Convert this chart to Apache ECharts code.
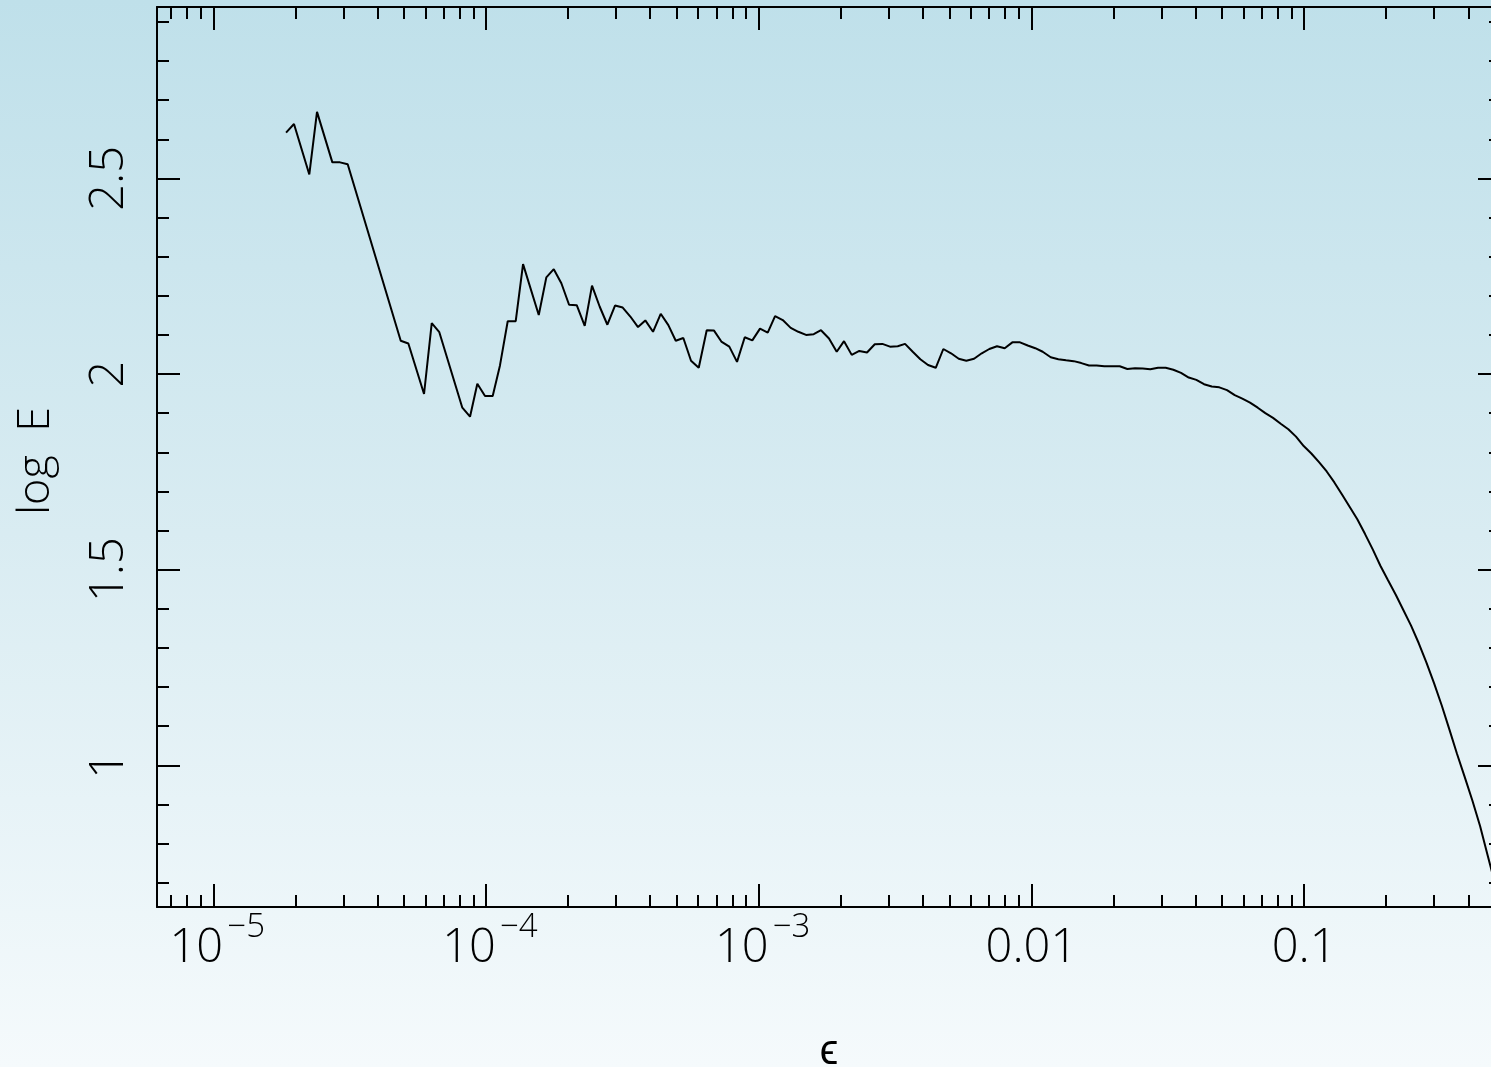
<!DOCTYPE html>
<html><head><meta charset="utf-8">
<script src="https://cdn.jsdelivr.net/npm/echarts@6/dist/echarts.min.js"></script>
<style>html,body{margin:0;padding:0;width:1491px;height:1067px;overflow:hidden}#c{width:1491px;height:1067px}</style>
</head><body><div id="c"></div>
<script>
// epsilon values (x) and log E values (y)
const eps = [1.848e-5,1.976e-5,2.249e-5,2.400e-5,2.732e-5,2.915e-5,3.110e-5,4.866e-5,5.190e-5,5.925e-5,
6.323e-5,6.741e-5,8.186e-5,8.736e-5,9.292e-5,9.915e-5,1.058e-4,1.125e-4,1.201e-4,1.285e-4,
1.367e-4,1.561e-4,1.664e-4,1.772e-4,1.889e-4,2.016e-4,2.151e-4,2.301e-4,2.447e-4,2.612e-4,
2.786e-4,2.972e-4,3.171e-4,3.382e-4,3.609e-4,3.838e-4,4.096e-4,4.371e-4,4.662e-4,4.963e-4,
5.291e-4,5.646e-4,6.026e-4,6.446e-4,6.856e-4,7.293e-4,7.801e-4,8.326e-4,8.887e-4,9.474e-4,
1.011e-3,1.079e-3,1.148e-3,1.225e-3,1.310e-3,1.397e-3,1.491e-3,1.591e-3,1.692e-3,1.810e-3,
1.932e-3,2.055e-3,2.193e-3,2.338e-3,2.495e-3,2.664e-3,2.840e-3,3.030e-3,3.234e-3,3.440e-3,
3.671e-3,3.914e-3,4.177e-3,4.458e-3,4.753e-3,5.072e-3,5.413e-3,5.771e-3,6.161e-3,6.574e-3,
7.008e-3,7.479e-3,7.981e-3,8.511e-3,9.083e-3,9.692e-3,1.033e-2,1.100e-2,1.177e-2,1.255e-2,
1.340e-2,1.429e-2,1.524e-2,1.626e-2,1.735e-2,1.851e-2,1.975e-2,2.108e-2,2.248e-2,2.399e-2,
2.559e-2,2.729e-2,2.913e-2,3.108e-2,3.315e-2,3.537e-2,3.775e-2,4.025e-2,4.295e-2,4.584e-2,
4.887e-2,5.215e-2,5.566e-2,5.935e-2,6.333e-2,6.760e-2,7.207e-2,7.691e-2,8.207e-2,8.752e-2,
9.339e-2,9.965e-2,0.1063,0.1134,0.1210,0.1291,0.1377,0.1470,0.1567,0.1673,
0.1785,0.1904,0.2031,0.2168,0.2311,0.2467,0.2633,0.2807,0.2995,0.3197,
0.3409,0.3638,0.3882,0.4140,0.4418,0.4714,0.5025];
const logE = [2.617,2.639,2.510,2.670,2.541,2.541,2.536,2.085,2.078,1.949,
2.130,2.107,1.914,1.891,1.975,1.944,1.944,2.022,2.135,2.135,
2.281,2.151,2.247,2.268,2.232,2.177,2.176,2.123,2.226,2.172,
2.126,2.175,2.170,2.147,2.120,2.137,2.108,2.154,2.125,2.085,
2.092,2.034,2.016,2.112,2.111,2.083,2.070,2.031,2.094,2.086,
2.116,2.106,2.148,2.138,2.118,2.108,2.100,2.102,2.112,2.091,
2.057,2.084,2.049,2.059,2.055,2.076,2.077,2.070,2.071,2.077,
2.057,2.038,2.023,2.016,2.064,2.053,2.039,2.034,2.039,2.053,
2.064,2.071,2.066,2.081,2.081,2.073,2.066,2.057,2.043,2.038,
2.035,2.033,2.028,2.022,2.022,2.020,2.020,2.020,2.013,2.015,
2.014,2.012,2.016,2.016,2.011,2.003,1.991,1.985,1.974,1.968,
1.966,1.959,1.946,1.937,1.927,1.914,1.900,1.888,1.873,1.859,
1.840,1.816,1.797,1.775,1.751,1.723,1.692,1.660,1.629,1.591,
1.552,1.510,1.473,1.436,1.397,1.357,1.312,1.263,1.210,1.153,
1.092,1.029,0.970,0.910,0.845,0.769,0.694];

// tick values and labels
const xMajorTicks = [1e-5, 1e-4, 1e-3, 0.01, 0.1];
const xMajorLabels = ['10^−5', '10^−4', '10^−3', '0.01', '0.1'];
const xMinorMantissas = [2, 3, 4, 5, 6, 7, 8, 9];
const xMinorDecades = [-6, -5, -4, -3, -2, -1];
const yMajorTicks = [1, 1.5, 2, 2.5];
const yMajorLabels = ['1', '1.5', '2', '2.5'];
const yMinorTicks = [0.7,0.8,0.9,1.1,1.2,1.3,1.4,1.6,1.7,1.8,1.9,2.1,2.2,2.3,2.4,2.6,2.7,2.8,2.9];

const X_MIN = 6.215e-6, X_MAX = 0.5272;
const Y_MIN = 0.638, Y_MAX = 2.938;

const xMinorTicks = [];
xMinorDecades.forEach(function (d) {
  xMinorMantissas.forEach(function (m) {
    const v = m * Math.pow(10, d);
    if (v > X_MIN && v < X_MAX) xMinorTicks.push(v);
  });
});

const FONT = "'Open Sans', 'Liberation Sans', sans-serif";
const BIG = 47;

function xLabel(value) {
  for (let i = 0; i < xMajorTicks.length; i++) {
    if (Math.abs(Math.log10(value) - Math.log10(xMajorTicks[i])) < 1e-6) {
      const s = xMajorLabels[i];
      if (s.indexOf('^') >= 0) {
        const p = s.split('^');
        return '{bp|' + p[0] + '}{s|' + p[1] + '}';
      }
      return '{b|' + s + '}';
    }
  }
  return '';
}
function yLabel(value) {
  for (let i = 0; i < yMajorTicks.length; i++) {
    if (Math.abs(value - yMajorTicks[i]) < 1e-6) return yMajorLabels[i];
  }
  return '';
}

const lineC = '#000';
function xAxisDef(pos, ticks, len, withLine, withLabel) {
  return {
    type: 'log', position: pos, min: X_MIN, max: X_MAX, logBase: 10,
    axisLine: { show: withLine, onZero: false, lineStyle: { color: lineC, width: 2 } },
    axisTick: { show: true, inside: true, length: len, customValues: ticks, lineStyle: { color: lineC, width: 2 } },
    minorTick: { show: false },
    splitLine: { show: false },
    axisLabel: withLabel ? {
      show: true, customValues: xMajorTicks, margin: 18, formatter: xLabel,
      rich: {
        b: { fontFamily: FONT, fontSize: BIG, lineHeight: BIG, color: '#000', fontWeight: 300, verticalAlign: 'bottom' },
        bp: { fontFamily: FONT, fontSize: BIG, lineHeight: BIG, color: '#000', fontWeight: 300, verticalAlign: 'bottom', padding: [0, 0, 0, 12] },
        s: { fontFamily: FONT, fontSize: 33, lineHeight: 22, width: 46, align: 'left', color: '#000', fontWeight: 300, verticalAlign: 'bottom', padding: [0, 0, 28, 0] }
      }
    } : { show: false },
    name: withLabel ? 'ϵ' : '', nameLocation: 'middle', nameGap: 124,
    nameTextStyle: { fontFamily: FONT, fontSize: 42, lineHeight: 42, color: '#000', fontWeight: 300 }
  };
}
function yAxisDef(pos, ticks, len, withLine, withLabel) {
  return {
    type: 'value', position: pos, min: Y_MIN, max: Y_MAX, offset: 0,
    axisLine: { show: withLine, onZero: false, lineStyle: { color: lineC, width: 2 } },
    axisTick: { show: true, inside: true, length: len, customValues: ticks, lineStyle: { color: lineC, width: 2 } },
    minorTick: { show: false },
    splitLine: { show: false },
    axisLabel: withLabel ? {
      show: true, customValues: yMajorTicks, rotate: 90, margin: 24, formatter: yLabel,
      fontFamily: FONT, fontSize: BIG, lineHeight: BIG, color: '#000', fontWeight: 300
    } : { show: false },
    name: withLabel ? 'log  E' : '', nameLocation: 'middle', nameGap: 98, nameRotate: 90,
    nameTextStyle: { fontFamily: FONT, fontSize: 45, lineHeight: 45, color: '#000', fontWeight: 300, padding: [0, 8, 0, 0] }
  };
}

const chart = echarts.init(document.getElementById('c'), null, { renderer: 'canvas' });
chart.setOption({
  animation: false,
  backgroundColor: {
    type: 'linear', x: 0, y: 0, x2: 0, y2: 1,
    colorStops: [{ offset: 0, color: '#bfe0ea' }, { offset: 0.5, color: '#d9ecf2' }, { offset: 1, color: '#f5fafc' }]
  },
  grid: { left: 157, top: 7, width: 1344, height: 900, containLabel: false, outerBoundsMode: 'none' },
  xAxis: [
    xAxisDef('bottom', xMajorTicks, 23, true, true),
    xAxisDef('bottom', xMinorTicks, 12, false, false),
    xAxisDef('top', xMajorTicks, 23, true, false),
    xAxisDef('top', xMinorTicks, 12, false, false)
  ],
  yAxis: [
    yAxisDef('left', yMajorTicks, 23, true, true),
    yAxisDef('left', yMinorTicks, 12, false, false),
    yAxisDef('right', yMajorTicks, 23, true, false),
    yAxisDef('right', yMinorTicks, 12, false, false)
  ],
  series: [{
    type: 'line', xAxisIndex: 0, yAxisIndex: 0,
    data: eps.map(function (x, i) { return [x, logE[i]]; }),
    showSymbol: false, symbol: 'none',
    lineStyle: { color: '#000', width: 2 },
    clip: true
  }]
});
</script></body></html>
